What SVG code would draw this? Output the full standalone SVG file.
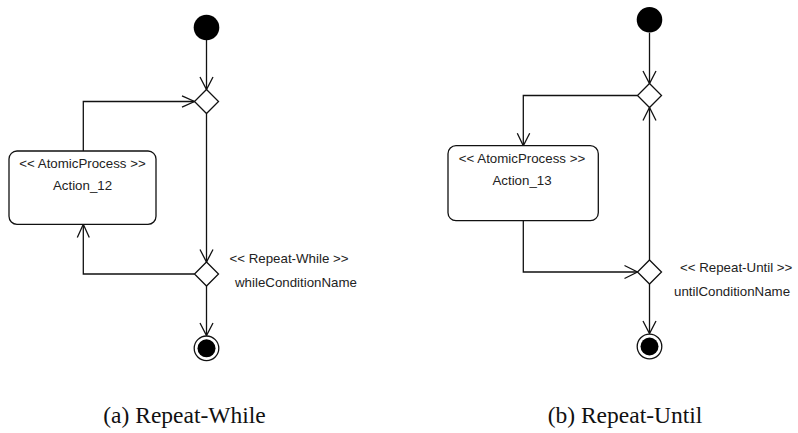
<svg xmlns="http://www.w3.org/2000/svg" width="798" height="433" viewBox="0 0 798 433">
<style>
.ln{fill:none;stroke:#111;stroke-width:1.3}
.dm{fill:#fff;stroke:#111;stroke-width:1.3}
.box{fill:#fff;stroke:#111;stroke-width:1.3}
.t{font-family:"Liberation Sans",Arial,sans-serif;font-size:13.3px;fill:#222}
.c{font-family:"Liberation Serif","Times New Roman",serif;font-size:23.5px;fill:#111}
</style>
<rect width="798" height="433" fill="#fff"/>
<g id="connectors">
  <!-- (a) -->
  <path class="ln" d="M206.5,40 V89.5"/>
  <path class="ln" d="M200,77 L206.5,89.5 L213,77"/>
  <path class="ln" d="M83.3,151 V101.5 H194.5"/>
  <path class="ln" d="M182,95.8 L194.5,101.5 L182,107.2"/>
  <path class="ln" d="M206.5,113.5 V262"/>
  <path class="ln" d="M200,249.5 L206.5,262 L213,249.5"/>
  <path class="ln" d="M194.5,274 H83.3 V224.3"/>
  <path class="ln" d="M77.3,237.5 L83.3,224.3 L89.3,237.5"/>
  <path class="ln" d="M206.5,286 V335.5"/>
  <path class="ln" d="M200,323 L206.5,335.5 L213,323"/>
  <!-- (b) -->
  <path class="ln" d="M649.5,32.7 V83.5"/>
  <path class="ln" d="M643,71 L649.5,83.5 L656,71"/>
  <path class="ln" d="M637.5,95.5 H523.3 V145.7"/>
  <path class="ln" d="M517.3,133.3 L523.3,145.7 L529.7,133.3"/>
  <path class="ln" d="M523.3,220.7 V272 H637.5"/>
  <path class="ln" d="M624.5,265.5 L637.5,272 L624.5,278.5"/>
  <path class="ln" d="M649.5,260 V107.5"/>
  <path class="ln" d="M643,120.5 L649.5,107.5 L656,120.5"/>
  <path class="ln" d="M649.5,284 V333.5"/>
  <path class="ln" d="M643,321 L649.5,333.5 L656,321"/>
</g>
<g id="a_initial"><circle cx="206.5" cy="27.5" r="12.8" fill="#000"/></g>
<g id="a_merge"><path class="dm" d="M206.5,89.5 L218.5,101.5 L206.5,113.5 L194.5,101.5 Z"/></g>
<g id="a_action">
  <rect class="box" x="9" y="151" width="147" height="73.3" rx="8"/>
  <text class="t" x="82.5" y="168" text-anchor="middle">&lt;&lt; AtomicProcess &gt;&gt;</text>
  <text class="t" x="82.5" y="189.5" text-anchor="middle">Action_12</text>
</g>
<g id="a_decision">
  <path class="dm" d="M206.5,262 L218.5,274 L206.5,286 L194.5,274 Z"/>
  <text class="t" x="229.5" y="263">&lt;&lt; Repeat-While &gt;&gt;</text>
  <text class="t" x="235" y="286.5">whileConditionName</text>
</g>
<g id="a_final">
  <circle cx="206.5" cy="348.3" r="12.3" fill="#fff" stroke="#111" stroke-width="1.3"/>
  <circle cx="206.5" cy="348.3" r="9" fill="#000"/>
</g>
<g id="b_initial"><circle cx="649.5" cy="19.8" r="12.8" fill="#000"/></g>
<g id="b_merge"><path class="dm" d="M649.5,83.5 L661.5,95.5 L649.5,107.5 L637.5,95.5 Z"/></g>
<g id="b_action">
  <rect class="box" x="448" y="145.7" width="150.3" height="75" rx="8"/>
  <text class="t" x="522" y="163" text-anchor="middle">&lt;&lt; AtomicProcess &gt;&gt;</text>
  <text class="t" x="522" y="185" text-anchor="middle">Action_13</text>
</g>
<g id="b_decision">
  <path class="dm" d="M649.5,260 L661.5,272 L649.5,284 L637.5,272 Z"/>
  <text class="t" x="680" y="272">&lt;&lt; Repeat-Until &gt;&gt;</text>
  <text class="t" x="674" y="295.5">untilConditionName</text>
</g>
<g id="b_final">
  <circle cx="649.5" cy="346.5" r="12.3" fill="#fff" stroke="#111" stroke-width="1.3"/>
  <circle cx="649.5" cy="346.5" r="9" fill="#000"/>
</g>
<g id="captions">
  <text class="c" x="184.5" y="423" text-anchor="middle">(a) Repeat-While</text>
  <text class="c" x="625" y="423" text-anchor="middle">(b) Repeat-Until</text>
</g>
</svg>
